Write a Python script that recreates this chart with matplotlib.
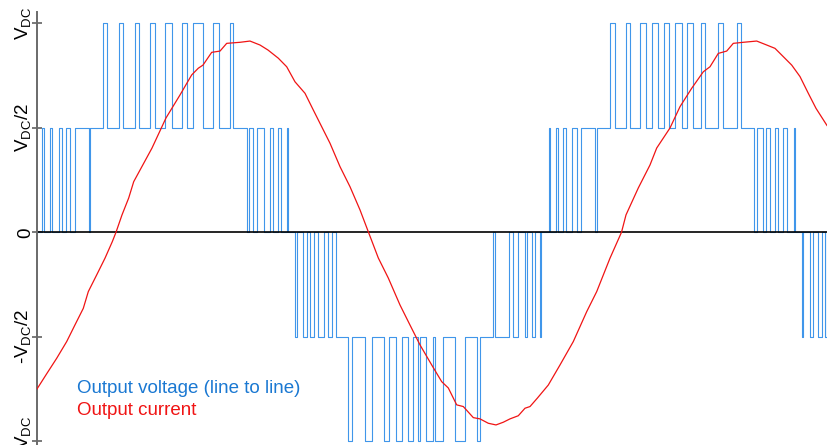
import numpy as np
import matplotlib
matplotlib.use("Agg")
import matplotlib.pyplot as plt
from matplotlib.transforms import ScaledTranslation

plt.rcParams['font.family'] = ['Liberation Sans', 'DejaVu Sans']
plt.rcParams['mathtext.fontset'] = 'custom'
plt.rcParams['mathtext.rm'] = 'Liberation Sans'

# time axis in samples, voltage in units of V_DC
t_end = 791

# line to line voltage: switching instants and the level after each switch
sw_time = [0, 5, 6.7, 12.7, 15, 21.7, 25, 29, 33.3, 37.7, 51.7, 53.3,
           66.5, 70.5, 82, 86.5, 98, 102.5, 113.5, 118.5, 128.5, 134.7,
           144.7, 150.3, 156.3, 166.3, 175.7, 182.3, 193, 196.3,
           210.3, 212.3, 216.3, 220.3, 227, 233, 236.3, 241.3, 243.7, 249.7, 251.3,
           258, 259.7, 266.3, 269.7, 273, 277.3, 281.3, 287.3, 290.7, 294.7, 298.7,
           311.3, 314.7, 328, 335, 347.3, 352, 358.7, 364.7, 371, 376.3,
           381.3, 383, 389, 395.7, 398, 406.3, 418, 428, 439.7, 443,
           455.7, 458, 472.3, 476.3, 481.3, 488, 489.7, 494.7, 498, 503.2, 504.5,
           512, 513.5, 519, 521.3, 526.5, 529, 534.7, 539.7, 543.7, 558, 559.7,
           573, 578, 589, 593, 603, 609, 614.7, 621.3, 627, 632.3,
           638, 644.7, 650.3, 656.3, 663.7, 668, 681.3, 686.3, 700.3, 703.7,
           717, 720.3, 725.7, 729, 733, 738, 741.3, 746.3, 749.7, 757, 758.3,
           764.7, 766, 773, 775.7, 781, 784.7, 788, 789.7]
sw_level = [0, 0.5, 0, 0.5, 0, 0.5, 0, 0.5, 0, 0.5, 0, 0.5,
            1, 0.5, 1, 0.5, 1, 0.5, 1, 0.5, 1, 0.5,
            1, 0.5, 1, 0.5, 1, 0.5, 1, 0.5,
            0, 0.5, 0, 0.5, 0, 0.5, 0, 0.5, 0, 0.5, 0,
            -0.5, 0, -0.5, 0, -0.5, 0, -0.5, 0, -0.5, 0, -0.5,
            -1, -0.5, -1, -0.5, -1, -0.5, -1, -0.5, -1, -0.5,
            -1, -0.5, -1, -0.5, -1, -0.5, -1, -0.5, -1, -0.5,
            0, -0.5, 0, -0.5, 0, -0.5, 0, -0.5, 0, -0.5, 0,
            0.5, 0, 0.5, 0, 0.5, 0, 0.5, 0, 0.5, 0, 0.5,
            1, 0.5, 1, 0.5, 1, 0.5, 1, 0.5, 1, 0.5,
            1, 0.5, 1, 0.5, 1, 0.5, 1, 0.5, 1, 0.5,
            0, 0.5, 0, 0.5, 0, 0.5, 0, 0.5, 0, 0.5, 0,
            -0.5, 0, -0.5, 0, -0.5, 0, -0.5, 0]

# output current (same scale as voltage)
cur_time = [0, 9.7, 19.7, 29.7, 38, 46.3, 51.3, 59.7, 68, 75.3, 79, 85, 91.7,
            96.7, 115, 129, 143, 154.7, 161.3, 166,
            174.7, 183, 189.7, 203, 213, 223, 231, 241.3, 249.7, 258, 268,
            276.3, 284.7, 293, 303, 313, 323, 331.5, 341.3, 351.3, 363, 373,
            383, 394.7, 404.7, 411.3, 419.7, 426.3, 436.3, 443, 451.3, 459,
            466.3, 473, 481.3, 488, 493, 500.3, 511.3, 523, 536.3, 549.7,
            559.7, 573, 584.5, 589, 601.3, 613, 619.7, 633, 643, 654.7, 666.3,
            673, 681.3, 689.7, 696.3, 706.3, 719.7, 729.7, 738, 744.7, 754.7,
            763, 771.3, 779, 789.7, 791]
cur_val = [-0.750, -0.677, -0.603, -0.523, -0.443, -0.364, -0.284, -0.204,
           -0.124, -0.045, 0.0, 0.083, 0.164,
           0.242, 0.403, 0.547,
           0.657, 0.753, 0.785, 0.800, 0.861, 0.867, 0.904, 0.909, 0.915,
           0.896, 0.872, 0.833, 0.792, 0.720, 0.665, 0.585, 0.505, 0.426,
           0.314, 0.218, 0.107, 0.0, -0.123, -0.219, -0.348, -0.444, -0.539,
           -0.635, -0.715, -0.745, -0.826, -0.834, -0.887, -0.893, -0.914,
           -0.922, -0.909, -0.893, -0.878, -0.842, -0.834, -0.794, -0.731,
           -0.635, -0.523, -0.380, -0.284, -0.124, 0.0, 0.083, 0.212, 0.322,
           0.403, 0.499, 0.601, 0.689, 0.768, 0.792, 0.856, 0.867, 0.904,
           0.909, 0.915, 0.896, 0.880, 0.848, 0.800, 0.745, 0.665, 0.593,
           0.513, 0.505]

tick_vals = [1, 0.5, 0, -0.5, -1]
tick_labels = [r'V$_\mathrm{DC}$', r'V$_\mathrm{DC}$/2', '0',
               r'-V$_\mathrm{DC}$/2', r'-V$_\mathrm{DC}$']

W, H = 828, 445
fig = plt.figure(figsize=(W / 100, H / 100), dpi=100)
ax = fig.add_axes([37 / W, 0, (W - 37) / W, 433 / H])

tt = np.append(sw_time, t_end)
vv = np.append(sw_level, sw_level[-1])
ax.step(tt, vv, where='post', color='#4096ea', lw=0.8, zorder=2)
ax.axhline(0, color='black', lw=1.2, zorder=2.5)
ax.plot(cur_time, cur_val, color='#f01414', lw=0.9, zorder=3)

ax.set_xlim(0, t_end)
ax.set_ylim(-1.018, 1.054)
for s in ['top', 'right', 'bottom']:
    ax.spines[s].set_visible(False)
ax.spines['left'].set_color('#6a6a6a')
ax.spines['left'].set_linewidth(1.4)
ax.set_xticks([])
ax.set_yticks(tick_vals)
ax.set_yticklabels(tick_labels, rotation=90, va='center', fontsize=13.5)
ax.tick_params(axis='y', direction='inout', length=7.5, width=1.1,
               color='#555555', pad=-1.5)

# bottom label sits a little above its tick, its minus runs off the edge
lab = ax.get_yticklabels()[-1]
lab.set_transform(lab.get_transform() + ScaledTranslation(0, 0.06, fig.dpi_scale_trans))

fig.text(77 / W, 1 - 393 / H, 'Output voltage (line to line)',
         color='#1a78d2', fontsize=13.5, va='baseline')
fig.text(77 / W, 1 - 415 / H, 'Output current',
         color='#f01414', fontsize=13.5, va='baseline')

fig.savefig('out.png', dpi=100)
